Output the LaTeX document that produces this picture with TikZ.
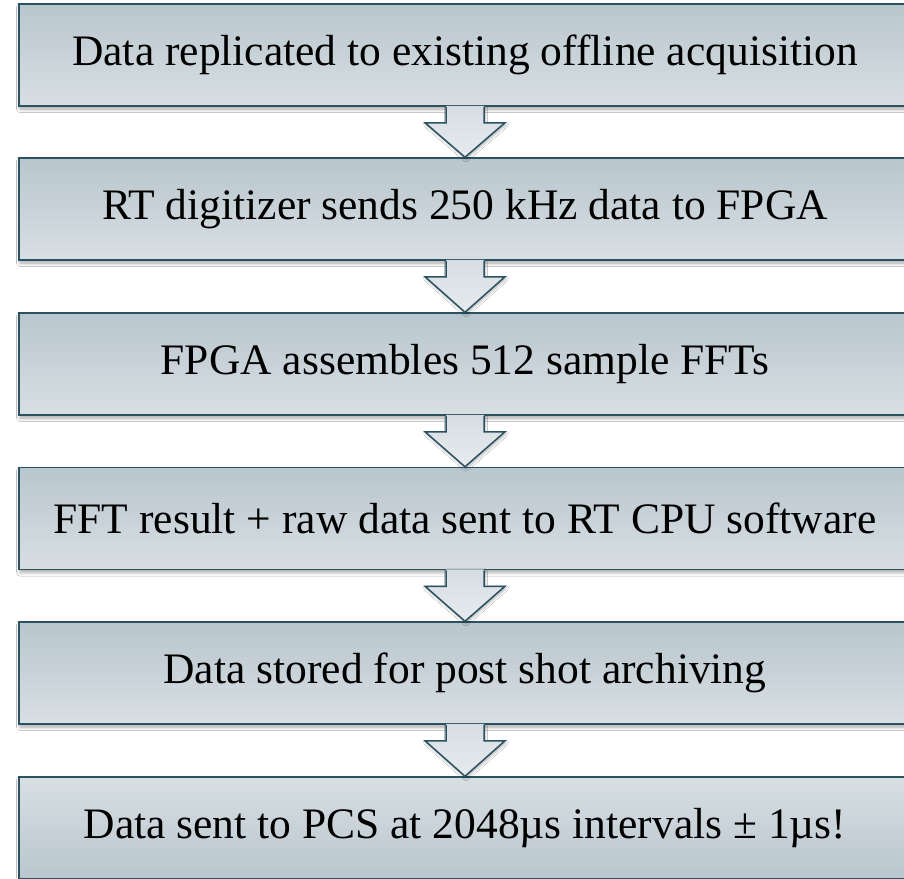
\documentclass[tikz,border=0pt]{standalone}
\usepackage{fontspec}
\setmainfont{Liberation Serif}
\usetikzlibrary{shadows.blur,calc}

\definecolor{edge}{RGB}{44,82,98}
\definecolor{boxtop}{RGB}{184,198,205}
\definecolor{boxbot}{RGB}{216,223,227}
\definecolor{arrtop}{RGB}{214,221,226}
\definecolor{arrbot}{RGB}{231,235,238}

\tikzset{
  stepbox/.style={draw=edge, line width=1.5pt, minimum width=892pt,
    minimum height=102pt, inner sep=0pt, top color=boxtop, bottom color=boxbot,
    font=\fontsize{43.5}{50}\selectfont,
    blur shadow={shadow xshift=1pt, shadow yshift=-3pt, shadow opacity=35,
      shadow blur radius=3.5pt, shadow blur steps=8}},
  lastbox/.style={stepbox, top color=boxbot, bottom color=boxtop},
  arrowfill/.style={top color=arrtop, bottom color=arrbot,
    blur shadow={shadow xshift=1pt, shadow yshift=-2pt, shadow opacity=30,
      shadow blur radius=2.5pt, shadow blur steps=6}},
  arrowline/.style={draw=edge, line width=1.5pt, line join=miter}
}

\begin{document}
\begin{tikzpicture}[x=1pt, y=-1pt]
  \useasboundingbox (0,0) rectangle (904,878);
  \clip (0,0) rectangle (904,878);
  \fill[white] (0,0) rectangle (904,878);

  % process steps
  \node[stepbox] (b1) at (465,55)    {Data replicated to existing offline acquisition};
  \node[stepbox] (b2) at (465,209)   {RT digitizer sends 250 kHz data to FPGA};
  \node[stepbox] (b3) at (465,364)   {FPGA assembles 512 sample FFTs};
  \node[stepbox] (b4) at (465,518.5) {FFT result + raw data sent to RT CPU software};
  \node[stepbox] (b5) at (465,673)   {Data stored for post shot archiving};
  \node[lastbox] (b6) at (465,828)   {Data sent to PCS at 2048µs intervals ± 1µs!};

  % block arrows between consecutive steps
  \foreach \u/\v in {b1/b2, b2/b3, b3/b4, b4/b5, b5/b6}{
    \shade[arrowfill] ($(\u.south)+(-19,-1)$) -- ($(\u.south)+(-19,16)$)
      -- ($(\u.south)+(-40,16)$) -- (\v.north) -- ($(\u.south)+(40,16)$)
      -- ($(\u.south)+(19,16)$) -- ($(\u.south)+(19,-1)$) -- cycle;
    \draw[arrowline] ($(\u.south)+(-19,0)$) -- ($(\u.south)+(-19,16)$)
      -- ($(\u.south)+(-40,16)$) -- (\v.north) -- ($(\u.south)+(40,16)$)
      -- ($(\u.south)+(19,16)$) -- ($(\u.south)+(19,0)$);
  }
\end{tikzpicture}
\end{document}
